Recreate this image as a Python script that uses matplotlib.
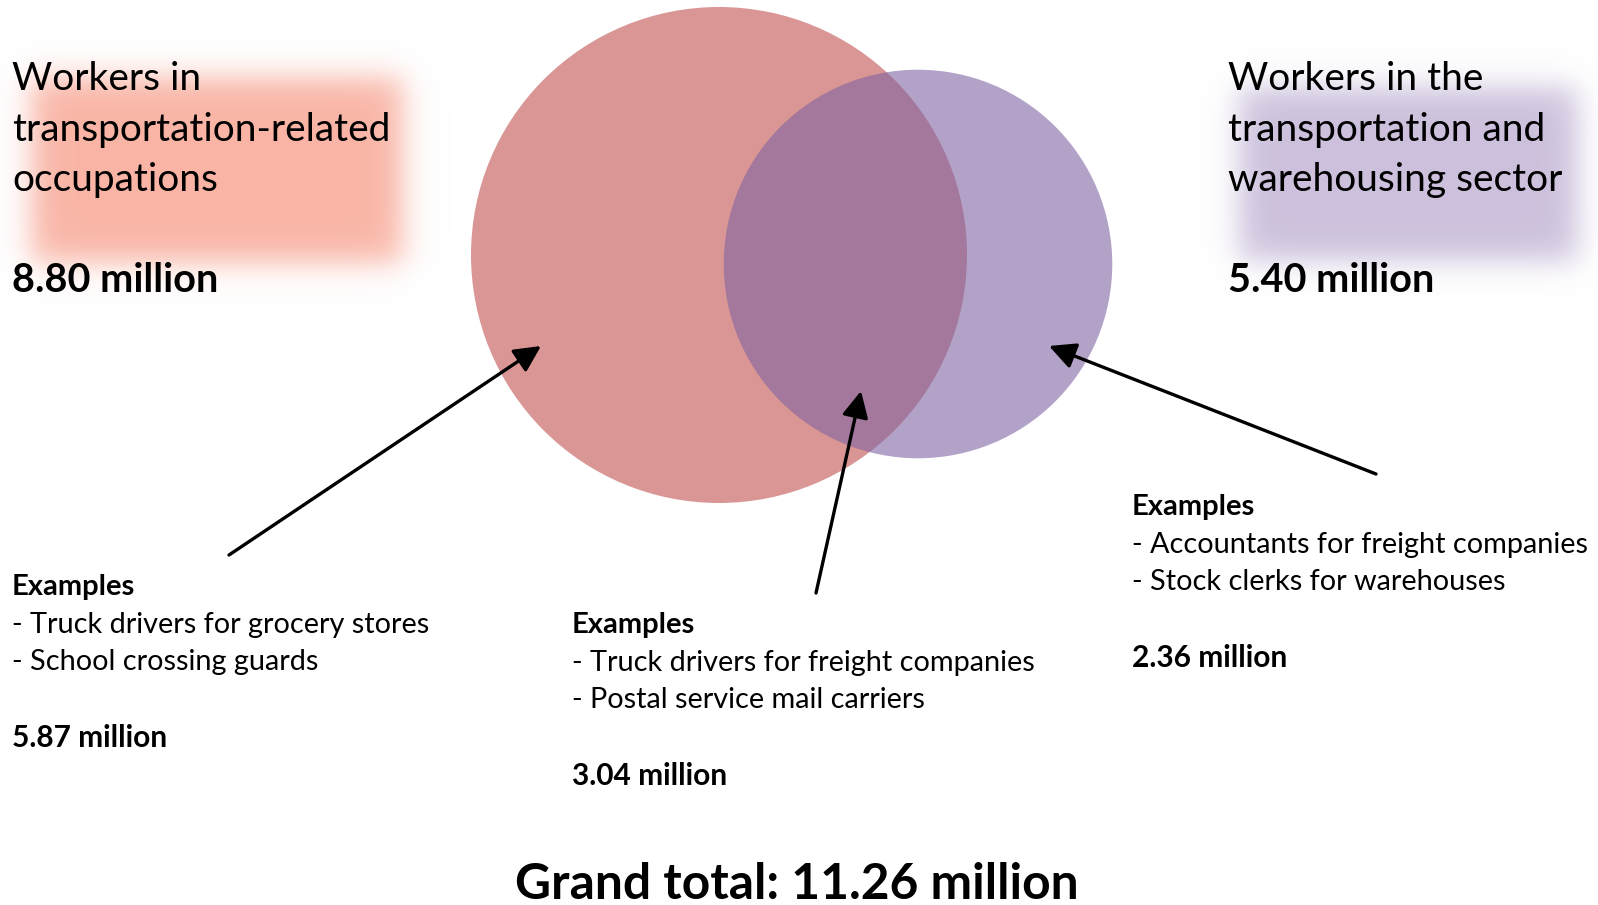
import numpy as np
import matplotlib
matplotlib.use("Agg")
import matplotlib.pyplot as plt
from matplotlib.patches import Circle

plt.rcParams['font.family'] = ['Lato', 'DejaVu Sans']

# Veriler (milyon kişi)
group_titles = ['Workers in\ntransportation-related\noccupations',
                'Workers in the\ntransportation and\nwarehousing sector']
group_totals = [8.80, 5.40]
region_values = [5.87, 3.04, 2.36]   # sadece meslek, kesişim, sadece sektör
region_examples = [
    ['- Truck drivers for grocery stores', '- School crossing guards'],
    ['- Truck drivers for freight companies', '- Postal service mail carriers'],
    ['- Accountants for freight companies', '- Stock clerks for warehouses'],
]
grand_total = 11.26

W, H = 1598, 905
fig = plt.figure(figsize=(W / 100, H / 100), dpi=100)
ax = fig.add_axes([0, 0, 1, 1])
ax.set_xlim(0, W)
ax.set_ylim(H, 0)
ax.axis('off')


# Yumuşak kenarlı arka plan kutusu
def soft_box(x0, x1, y0, y1, rgb, s=9):
    xs = np.arange(W) + 0.5
    ys = np.arange(H) + 0.5
    sig = lambda t: 1 / (1 + np.exp(-t))
    mx = sig((xs - x0) / s) * sig((x1 - xs) / s)
    my = sig((ys - y0) / s) * sig((y1 - ys) / s)
    img = np.zeros((H, W, 4))
    img[..., :3] = np.array(rgb) / 255
    img[..., 3] = np.outer(my, mx)
    ax.imshow(img, extent=(0, W, H, 0), zorder=0, interpolation='bilinear')


soft_box(32, 402, 78, 262, (250, 180, 165))
soft_box(1240, 1577, 88, 260, (204, 192, 220))

# Daireler: yarıçap toplamın karekökü ile orantılı
k = 83.6
centers = [(719, 255), (918, 264)]
colors = ['#C0504D', '#8064A2']
for (cx, cy), v, c in zip(centers, group_totals, colors):
    ax.add_patch(Circle((cx, cy), k * np.sqrt(v), facecolor=c, alpha=0.6,
                        edgecolor='none', zorder=1))

# Başlıklar ve toplamlar
title_x = [12, 1228]
for x, t, v in zip(title_x, group_titles, group_totals):
    for i, line in enumerate(t.split('\n')):
        ax.text(x, 90 + i * 50.5, line, fontsize=28, va='baseline',
                ha='left', zorder=3)
    ax.text(x, 292, f'{v:.2f} million', fontsize=28.5, fontweight='bold',
            va='baseline', ha='left', zorder=3)

# Bölge açıklamaları
block_pos = [(12, 595), (572, 633), (1132, 515)]
for (x, y), ex, v in zip(block_pos, region_examples, region_values):
    ax.text(x, y, 'Examples', fontsize=21, fontweight='bold',
            va='baseline', zorder=3)
    for i, line in enumerate(ex):
        ax.text(x, y + 37.5 * (i + 1), line, fontsize=20.8, va='baseline',
                zorder=3)
    ax.text(x, y + 152, f'{v:.2f} million', fontsize=21.5, fontweight='bold',
            va='baseline', zorder=3)

# Oklar
arrows = [((229, 555), (541, 346)),
          ((816, 593), (861, 391)),
          ((1376, 474), (1049, 346))]
for tail, tip in arrows:
    ax.annotate('', xy=tip, xytext=tail, zorder=4,
                arrowprops=dict(arrowstyle='-|>', color='black', lw=2.4,
                                mutation_scale=40, shrinkA=0, shrinkB=0))

ax.text(W / 2 - 2, 899, f'Grand total: {grand_total:.2f} million', fontsize=35.8,
        fontweight='bold', ha='center', va='baseline', zorder=3)

fig.savefig('out.png', dpi=100)
